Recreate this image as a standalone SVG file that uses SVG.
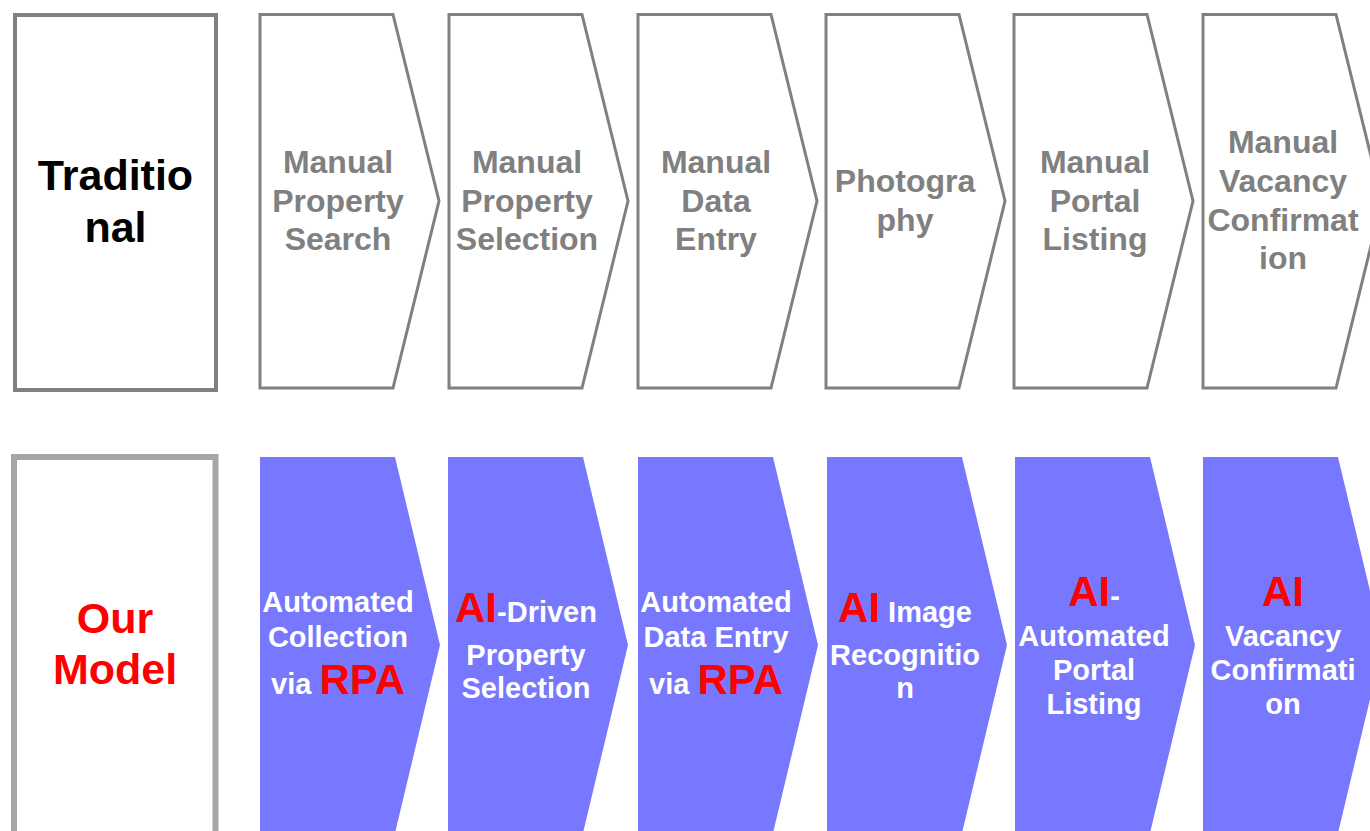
<svg xmlns="http://www.w3.org/2000/svg" width="1370" height="831" viewBox="0 0 1370 831">
  <style>
    text { font-family: "Liberation Sans", Arial, sans-serif; font-weight: bold; text-anchor: middle; }
    .frame-top { fill: #ffffff; stroke: #808080; stroke-width: 4; }
    .frame-bot { fill: #ffffff; stroke: #a6a6a6; stroke-width: 6; }
    .step-top { fill: #ffffff; stroke: #808080; stroke-width: 3; stroke-linejoin: miter; }
    .step-bot { fill: #7878ff; stroke: none; }
    .lbl-top { font-size: 32px; fill: #808080; }
    .lbl-bot { font-size: 29px; fill: #ffffff; }
    .big { font-size: 42px; fill: #ff0000; }
    .title-black { font-size: 43px; fill: #000000; }
    .title-red { font-size: 43px; fill: #ff0000; }
  </style>
  <defs>
    <!-- chevron outlines, placed per step with translate -->
    <path id="chev-top" d="M0,14.5 L133,14.5 L179,201 L133,388 L0,388 Z"/>
    <path id="chev-bot" d="M0,457 L135,457 L180,645 L135,833 L0,833 Z"/>
  </defs>
  <rect width="1370" height="831" fill="#ffffff"/>

  <!-- upper row: traditional process -->
  <g id="traditional">
    <rect class="frame-top" x="15" y="15" width="201" height="375"/>
    <text class="title-black" x="115.5" y="190">Traditio</text>
    <text class="title-black" x="115.5" y="242">nal</text>
  </g>
  <g id="t1">
    <use href="#chev-top" class="step-top" transform="translate(260,0)"/>
    <text class="lbl-top" x="338" y="173">Manual</text>
    <text class="lbl-top" x="338" y="212">Property</text>
    <text class="lbl-top" x="338" y="250">Search</text>
  </g>
  <g id="t2">
    <use href="#chev-top" class="step-top" transform="translate(449,0)"/>
    <text class="lbl-top" x="527" y="173">Manual</text>
    <text class="lbl-top" x="527" y="212">Property</text>
    <text class="lbl-top" x="527" y="250">Selection</text>
  </g>
  <g id="t3">
    <use href="#chev-top" class="step-top" transform="translate(638,0)"/>
    <text class="lbl-top" x="716" y="173">Manual</text>
    <text class="lbl-top" x="716" y="212">Data</text>
    <text class="lbl-top" x="716" y="250">Entry</text>
  </g>
  <g id="t4">
    <use href="#chev-top" class="step-top" transform="translate(826,0)"/>
    <text class="lbl-top" x="905" y="192">Photogra</text>
    <text class="lbl-top" x="905" y="231">phy</text>
  </g>
  <g id="t5">
    <use href="#chev-top" class="step-top" transform="translate(1014,0)"/>
    <text class="lbl-top" x="1095" y="173">Manual</text>
    <text class="lbl-top" x="1095" y="212">Portal</text>
    <text class="lbl-top" x="1095" y="250">Listing</text>
  </g>
  <g id="t6">
    <use href="#chev-top" class="step-top" transform="translate(1203,0)"/>
    <text class="lbl-top" x="1283" y="153">Manual</text>
    <text class="lbl-top" x="1283" y="192">Vacancy</text>
    <text class="lbl-top" x="1283" y="231">Confirmat</text>
    <text class="lbl-top" x="1283" y="269">ion</text>
  </g>

  <!-- lower row: our model -->
  <g id="our-model">
    <rect class="frame-bot" x="14" y="457" width="201.5" height="380"/>
    <text class="title-red" x="115" y="633">Our</text>
    <text class="title-red" x="115" y="684">Model</text>
  </g>
  <g id="m1">
    <use href="#chev-bot" class="step-bot" transform="translate(260,0)"/>
    <text class="lbl-bot" x="338" y="612">Automated</text>
    <text class="lbl-bot" x="338" y="647">Collection</text>
    <text class="lbl-bot" x="338" y="694">via <tspan class="big">RPA</tspan></text>
  </g>
  <g id="m2">
    <use href="#chev-bot" class="step-bot" transform="translate(448,0)"/>
    <text class="lbl-bot" x="526" y="622"><tspan class="big">AI</tspan>-Driven</text>
    <text class="lbl-bot" x="526" y="665">Property</text>
    <text class="lbl-bot" x="526" y="698">Selection</text>
  </g>
  <g id="m3">
    <use href="#chev-bot" class="step-bot" transform="translate(638,0)"/>
    <text class="lbl-bot" x="716" y="612">Automated</text>
    <text class="lbl-bot" x="716" y="647">Data Entry</text>
    <text class="lbl-bot" x="716" y="694">via <tspan class="big">RPA</tspan></text>
  </g>
  <g id="m4">
    <use href="#chev-bot" class="step-bot" transform="translate(827,0)"/>
    <text class="lbl-bot" x="905" y="622"><tspan class="big">AI</tspan> Image</text>
    <text class="lbl-bot" x="905" y="665">Recognitio</text>
    <text class="lbl-bot" x="905" y="698">n</text>
  </g>
  <g id="m5">
    <use href="#chev-bot" class="step-bot" transform="translate(1015,0)"/>
    <text class="lbl-bot" x="1094" y="606"><tspan class="big">AI</tspan>-</text>
    <text class="lbl-bot" x="1094" y="646">Automated</text>
    <text class="lbl-bot" x="1094" y="680">Portal</text>
    <text class="lbl-bot" x="1094" y="714">Listing</text>
  </g>
  <g id="m6">
    <use href="#chev-bot" class="step-bot" transform="translate(1203,0)"/>
    <text class="lbl-bot" x="1283" y="606"><tspan class="big">AI</tspan></text>
    <text class="lbl-bot" x="1283" y="646">Vacancy</text>
    <text class="lbl-bot" x="1283" y="680">Confirmati</text>
    <text class="lbl-bot" x="1283" y="714">on</text>
  </g>
</svg>
